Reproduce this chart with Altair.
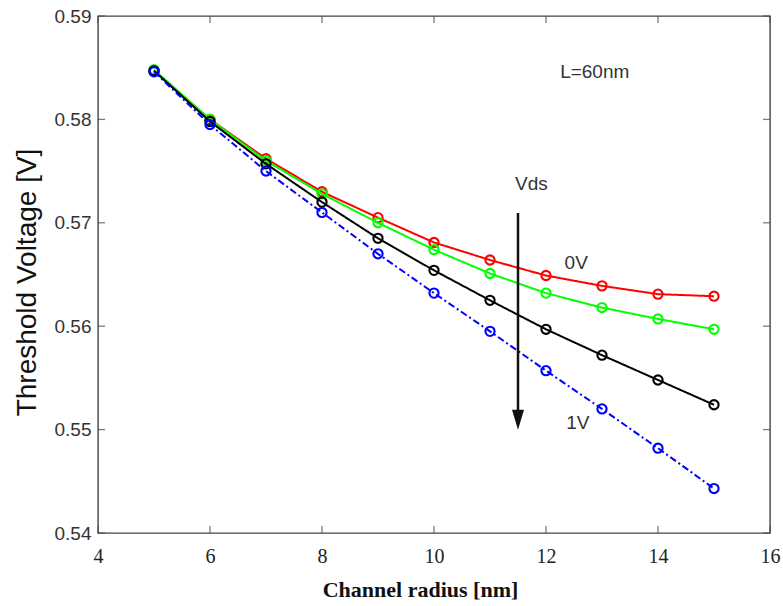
import altair as alt
import pandas as pd

# ---- data ----
radius = [5, 6, 7, 8, 9, 10, 11, 12, 13, 14, 15]
vt_red = [0.5847, 0.5800, 0.5762, 0.5730, 0.5705, 0.5681, 0.5664, 0.5649, 0.5639, 0.5631, 0.5629]
vt_green = [0.5848, 0.5800, 0.5760, 0.5728, 0.5700, 0.5674, 0.5651, 0.5632, 0.5618, 0.5607, 0.5597]
vt_black = [0.5847, 0.5798, 0.5757, 0.5720, 0.5685, 0.5654, 0.5625, 0.5597, 0.5572, 0.5548, 0.5524]
vt_blue = [0.5846, 0.5795, 0.5750, 0.5710, 0.5670, 0.5632, 0.5595, 0.5557, 0.5520, 0.5482, 0.5443]

series_names = ["Vds = 0V", "Vds (2)", "Vds (3)", "Vds = 1V"]
series_values = [vt_red, vt_green, vt_black, vt_blue]
series_colors = ["#ff0000", "#00ff00", "#000000", "#0000ff"]
series_dash = [[1, 0], [1, 0], [1, 0], [7, 3, 2, 3]]

x_ticks = [4, 6, 8, 10, 12, 14, 16]
y_ticks = [0.54, 0.55, 0.56, 0.57, 0.58, 0.59]

ann_text = ["L=60nm", "Vds", "0V", "1V"]
ann_x = [12.87, 11.74, 12.54, 12.57]
ann_y = [0.5846, 0.5738, 0.5661, 0.5506]

arrow_x = [11.5]
arrow_top = [0.57095]
arrow_bottom = [0.5510]
arrow_head = [0.55095]

X_DOM = [4, 16]
Y_DOM = [0.54, 0.59]

xscale = alt.Scale(domain=X_DOM, nice=False, zero=False)
yscale = alt.Scale(domain=Y_DOM, nice=False, zero=False)

x_axis = alt.Axis(
    values=x_ticks, format="d", domain=False, ticks=False, tickSize=0, grid=False,
    labelFont="Liberation Serif", labelFontSize=20, labelColor="#222",
    labelPadding=13, labelFlush=False,
    title="Channel radius [nm]", titleFont="Liberation Serif", titleFontSize=22,
    titleFontWeight="bold", titleColor="#111", titleX=322, titleY=63,
    titleAlign="center", titleBaseline="alphabetic",
)
y_axis = alt.Axis(
    values=y_ticks, format=".2f", domain=False, ticks=False, tickSize=0, grid=False,
    labelFont="Liberation Sans", labelFontSize=19, labelColor="#333",
    labelPadding=7, labelFlush=False,
    title="Threshold Voltage [V]", titleFont="Liberation Sans", titleFontSize=28,
    titleFontWeight="normal", titleColor="#111", titleX=-63, titleY=266,
    titleAlign="center", titleBaseline="alphabetic", titleAngle=-90,
)

layers = []

# axis layer (invisible points just to carry axes)
base_df = pd.DataFrame({"x": X_DOM, "y": Y_DOM})
layers.append(
    alt.Chart(base_df).mark_point(opacity=0).encode(
        x=alt.X("x:Q", scale=xscale, axis=x_axis),
        y=alt.Y("y:Q", scale=yscale, axis=y_axis),
    )
)

# inside tick marks on four sides
xt_df = pd.DataFrame({"xt": x_ticks})
yt_df = pd.DataFrame({"yt": y_ticks})
tick_color = "#444"
for yd, off in [(Y_DOM[0], -3.5), (Y_DOM[1], 3.5)]:
    layers.append(
        alt.Chart(xt_df).mark_tick(orient="vertical", size=7, thickness=1.3,
                                   color=tick_color, yOffset=off).encode(
            x=alt.X("xt:Q", scale=xscale), y=alt.datum(yd, scale=yscale)
        )
    )
for xd, off in [(X_DOM[0], 3.5), (X_DOM[1], -3.5)]:
    layers.append(
        alt.Chart(yt_df).mark_tick(orient="horizontal", size=7, thickness=1.3,
                                   color=tick_color, xOffset=off).encode(
            y=alt.Y("yt:Q", scale=yscale), x=alt.datum(xd, scale=xscale)
        )
    )

# data series
for name, vals, col, dash in zip(series_names, series_values, series_colors, series_dash):
    df = pd.DataFrame({"radius": radius, "vt": vals, "series": name})
    enc = dict(x=alt.X("radius:Q", scale=xscale), y=alt.Y("vt:Q", scale=yscale))
    layers.append(
        alt.Chart(df).mark_line(color=col, strokeWidth=2, strokeDash=dash).encode(**enc)
    )
    layers.append(
        alt.Chart(df).mark_point(shape="circle", filled=False, color=col,
                                 strokeWidth=2.1, size=85, opacity=1).encode(**enc)
    )

# arrow
arr_df = pd.DataFrame({"x": arrow_x, "top": arrow_top, "bottom": arrow_bottom, "head": arrow_head})
layers.append(
    alt.Chart(arr_df).mark_rule(color="#111", strokeWidth=2.5).encode(
        x=alt.X("x:Q", scale=xscale), y=alt.Y("top:Q", scale=yscale), y2="bottom:Q"
    )
)
layers.append(
    alt.Chart(arr_df).mark_point(shape="M-0.6,-1L0.6,-1L0,1Z", filled=True, color="#111",
                                 size=400, opacity=1).encode(
        x=alt.X("x:Q", scale=xscale), y=alt.Y("head:Q", scale=yscale)
    )
)

# annotations
ann_df = pd.DataFrame({"t": ann_text, "x": ann_x, "y": ann_y})
layers.append(
    alt.Chart(ann_df).mark_text(font="Liberation Sans", fontSize=19, color="#333",
                                align="center", baseline="middle").encode(
        x=alt.X("x:Q", scale=xscale), y=alt.Y("y:Q", scale=yscale), text="t:N"
    )
)

chart = alt.layer(*layers).properties(
    width=672, height=517,
    autosize=alt.AutoSizeParams(type="none"),
    padding={"left": 98, "top": 16, "right": 13, "bottom": 73},
    background="white",
).configure_view(stroke="#444", strokeWidth=1.4)

chart.save("out.html", embed_options={"renderer": "svg", "actions": False})
